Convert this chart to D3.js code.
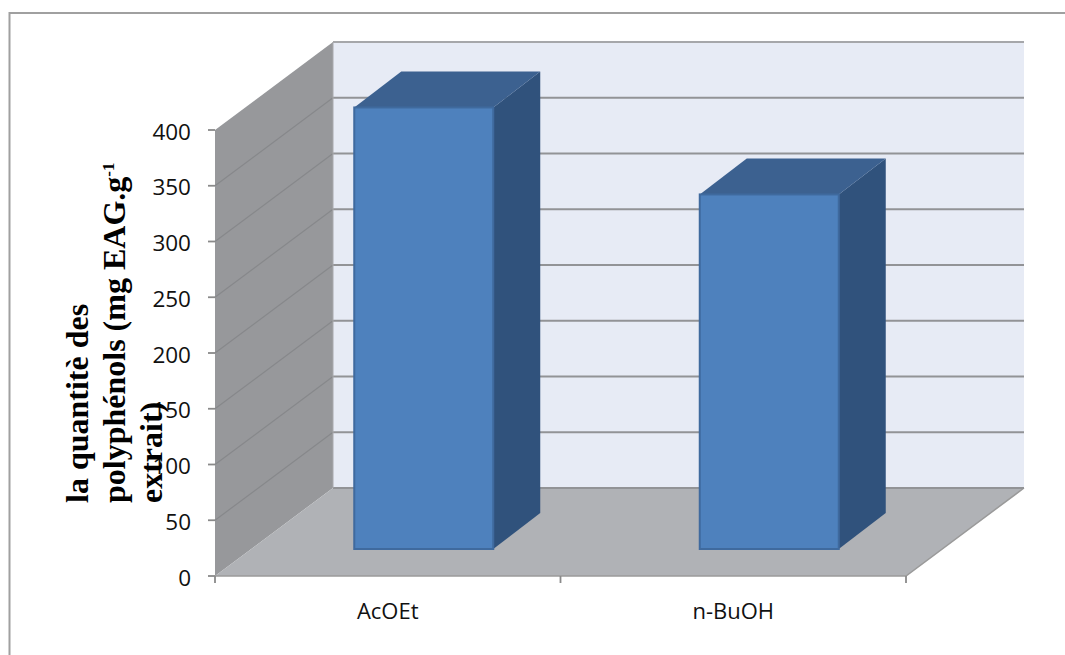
<!DOCTYPE html>
<html><head><meta charset="utf-8">
<script src="https://cdn.jsdelivr.net/npm/d3@7"></script>
<style>html,body{margin:0;background:#fff}svg{display:block}</style></head>
<body><svg id="c" width="1065" height="655"></svg>
<script>
const categories = ["AcOEt", "n-BuOH"];
const values = [396, 318];
const yTicks = [0, 50, 100, 150, 200, 250, 300, 350, 400];
const titleLines = ["la quantitè des", "polyphénols (mg EAG.g", "extrait)"];

const svg = d3.select("#c");
const x = d3.scaleBand().domain(categories).range([215, 906]);
const y = d3.scaleLinear().domain([0, 400]).range([576, 130]);
const W = {dx: 118, dy: -88};   // wall depth
const B = {dx: 36, dy: -27, ddx: 47, ddy: -36, w: 139}; // bar placement and depth
const poly = (pts, fill) => svg.append("polygon")
  .attr("points", pts.map(p => p.join(",")).join(" ")).attr("fill", fill);

// frame
svg.append("path").attr("d", "M9.5,655V13H1065").attr("fill", "none").attr("stroke", "#a0a0a0").attr("stroke-width", 2);

const [x0, x1] = x.range();
// back wall
poly([[x0 + W.dx, y(400) + W.dy], [x1 + W.dx, y(400) + W.dy], [x1 + W.dx, y(0) + W.dy], [x0 + W.dx, y(0) + W.dy]], "#e7ebf5");
// left wall
poly([[x0, y(0)], [x0, y(400)], [x0 + W.dx, y(400) + W.dy], [x0 + W.dx, y(0) + W.dy]], "#97989b");
// floor
poly([[x0, y(0)], [x0 + W.dx, y(0) + W.dy], [x1 + W.dx, y(0) + W.dy], [x1, y(0)]], "#b0b2b6");
svg.append("path").attr("d", `M${x0},${y(0)}H${x1}L${x1 + W.dx},${y(0) + W.dy}`).attr("fill", "none").attr("stroke", "#9a9a9a").attr("stroke-width", 1.5);

// gridlines, ticks and tick labels
yTicks.forEach(t => {
  if (t > 0 && t < 400) svg.append("line").attr("x1", x0).attr("y1", y(t)).attr("x2", x0 + W.dx).attr("y2", y(t) + W.dy).attr("stroke", "#87888b").attr("stroke-width", 1.2);
  svg.append("line").attr("x1", x0 + W.dx).attr("y1", y(t) + W.dy).attr("x2", x1 + W.dx).attr("y2", y(t) + W.dy)
    .attr("stroke", t === 400 ? "#a6a7aa" : "#929396").attr("stroke-width", 2);
  svg.append("line").attr("x1", x0 - 7).attr("y1", y(t)).attr("x2", x0).attr("y2", y(t)).attr("stroke", "#8a8a8a").attr("stroke-width", 1.8);
  svg.append("text").attr("x", x0 - 24).attr("y", y(t) + 9.5).attr("text-anchor", "end")
    .attr("font-family", "Open Sans").attr("font-size", 22.5).attr("fill", "#111").text(t);
});
svg.append("line").attr("x1", x0 + W.dx).attr("y1", y(400) + W.dy).attr("x2", x0 + W.dx).attr("y2", y(0) + W.dy).attr("stroke", "#a9aaad").attr("stroke-width", 1);

// x ticks
[x0, x0 + x.bandwidth(), x1].forEach(v => svg.append("line").attr("x1", v).attr("x2", v).attr("y1", y(0)).attr("y2", y(0) + 7).attr("stroke", "#8a8a8a").attr("stroke-width", 1.8));

// bars
categories.forEach((c, i) => {
  const fx = x(c) + x.bandwidth() / 2 - B.w / 2 + B.dx;
  const bot = y(0) + B.dy, top = y(values[i]) + B.dy;
  poly([[fx + B.w, bot], [fx + B.w + B.ddx, bot + B.ddy], [fx + B.w + B.ddx, top + B.ddy], [fx + B.w, top]], "#30527c");
  poly([[fx, top], [fx + B.ddx, top + B.ddy], [fx + B.w + B.ddx, top + B.ddy], [fx + B.w, top]], "#3c6190");
  svg.append("rect").attr("x", fx).attr("y", top).attr("width", B.w).attr("height", bot - top)
    .attr("fill", "#4e81bd").attr("stroke", "#3f6a9e").attr("stroke-width", 2);
  svg.append("text").attr("x", x(c) + x.bandwidth() / 2).attr("y", 619).attr("text-anchor", "middle")
    .attr("font-family", "Open Sans").attr("font-size", 22).attr("fill", "#111").text(c);
});

// axis title
const tx = [88, 125, 162];
titleLines.forEach((t, i) => {
  const el = svg.append("text").attr("transform", `translate(${tx[i]},503) rotate(-90)`)
    .attr("font-family", "Liberation Serif").attr("font-weight", "bold").attr("font-size", 32).attr("fill", "#000").text(t);
  if (i === 1) el.append("tspan").attr("dy", -11).attr("font-size", 17).text("-1");
});
</script></body></html>
